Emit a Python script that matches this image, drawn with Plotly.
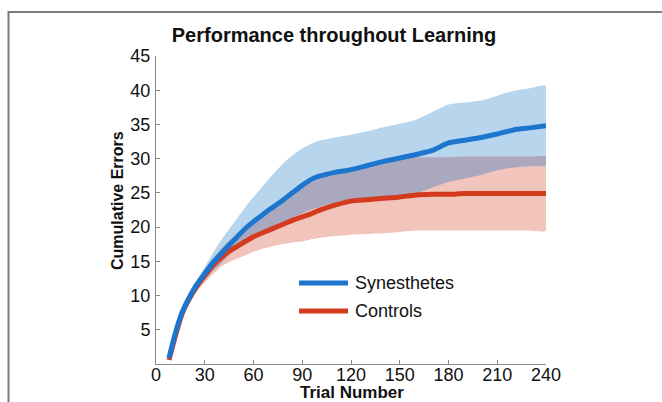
import numpy as np
import plotly.graph_objects as go

trials = [8, 10, 13, 16, 20, 25, 30, 35, 40, 45, 50, 55, 60, 65, 70, 75, 80, 85, 90,
          95, 100, 110, 120, 130, 140, 150, 160, 170, 180, 190, 200, 210, 220, 230, 240]

syn_mean = [0.9, 2.8, 5.4, 7.5, 9.5, 11.6, 13.2, 14.8, 16.1, 17.4, 18.6, 19.8, 20.8,
            21.7, 22.6, 23.4, 24.3, 25.2, 26.1, 26.9, 27.4, 28.0, 28.4, 29.0, 29.6,
            30.1, 30.6, 31.2, 32.3, 32.7, 33.1, 33.6, 34.2, 34.5, 34.8]
syn_upper = [1.0, 3.0, 5.7, 7.9, 10.0, 12.2, 14.2, 16.2, 18.1, 19.7, 21.3, 22.9, 24.4,
             25.8, 27.2, 28.5, 29.7, 30.7, 31.5, 32.1, 32.6, 33.1, 33.5, 34.0, 34.6,
             35.1, 35.7, 36.8, 37.9, 38.2, 38.5, 39.2, 39.9, 40.3, 40.6]
syn_lower = [0.8, 2.6, 5.1, 7.1, 9.0, 10.9, 12.3, 13.6, 14.7, 15.9, 16.8, 17.6, 18.4,
             19.1, 19.7, 20.3, 20.9, 21.5, 22.0, 22.5, 22.9, 23.6, 24.0, 24.2, 24.3,
             24.5, 24.9, 25.8, 26.6, 27.1, 27.6, 28.3, 28.7, 28.9, 29.0]

ctl_mean = [0.6, 2.4, 5.0, 7.3, 9.3, 11.3, 12.9, 14.4, 15.5, 16.5, 17.2, 17.9, 18.6,
            19.1, 19.6, 20.1, 20.6, 21.1, 21.5, 21.9, 22.4, 23.2, 23.8, 24.0, 24.2,
            24.4, 24.7, 24.8, 24.8, 24.9, 24.9, 24.9, 24.9, 24.9, 24.9]
ctl_upper = [0.7, 2.6, 5.3, 7.6, 9.7, 11.8, 13.5, 15.3, 16.8, 18.0, 19.0, 20.0, 21.0,
             21.9, 22.8, 23.7, 24.5, 25.2, 25.9, 26.5, 27.0, 28.0, 28.6, 29.2, 29.7,
             30.0, 30.2, 30.2, 30.2, 30.3, 30.3, 30.3, 30.3, 30.3, 30.3]
ctl_lower = [0.5, 2.2, 4.7, 6.9, 8.8, 10.6, 11.9, 13.1, 14.2, 14.9, 15.4, 15.9, 16.4,
             16.8, 17.1, 17.4, 17.6, 17.8, 17.9, 18.2, 18.4, 18.7, 18.9, 19.0, 19.1,
             19.3, 19.5, 19.5, 19.5, 19.5, 19.5, 19.5, 19.5, 19.5, 19.5]

x_ticks = [0, 30, 60, 90, 120, 150, 180, 210, 240]
y_ticks = [5, 10, 15, 20, 25, 30, 35, 40, 45]
series_names = ["Synesthetes", "Controls"]

BLUE = "rgb(28,118,206)"
RED = "rgb(212,58,30)"
BLUE_BAND = "rgb(183,214,238)"
RED_BAND = "rgb(241,196,188)"
OVERLAP = "rgb(169,168,190)"
FONT = "Liberation Sans, Arial, Helvetica, sans-serif"

t = np.array(trials, dtype=float)
ov_lower = np.maximum(syn_lower, ctl_lower)
ov_upper = np.maximum(np.minimum(syn_upper, ctl_upper), ov_lower)


def band(lower, upper, color):
    return go.Scatter(
        x=np.concatenate([t, t[::-1]]),
        y=np.concatenate([np.asarray(upper, float), np.asarray(lower, float)[::-1]]),
        fill="toself", fillcolor=color, line=dict(width=0, shape="spline", smoothing=0.6),
        mode="lines", hoverinfo="skip", showlegend=False)


fig = go.Figure()
fig.add_trace(band(syn_lower, syn_upper, BLUE_BAND))
fig.add_trace(band(ctl_lower, ctl_upper, RED_BAND))
fig.add_trace(band(ov_lower, ov_upper, OVERLAP))
fig.add_trace(go.Scatter(x=trials, y=ctl_mean, mode="lines", name=series_names[1],
                         line=dict(color=RED, width=5, shape="spline", smoothing=0.6),
                         showlegend=False))
fig.add_trace(go.Scatter(x=trials, y=syn_mean, mode="lines", name=series_names[0],
                         line=dict(color=BLUE, width=5, shape="spline", smoothing=0.6),
                         showlegend=False))

L, R, T, B = 156, 116, 56, 38
W, H = 662 - L - R, 402 - T - B


def px(xp):
    return (xp - L) / W


def py(yp):
    return (402 - B - yp) / H


# manual legend
for name, color, ypix in [(series_names[0], BLUE, 283), (series_names[1], RED, 311)]:
    fig.add_shape(type="line", xref="paper", yref="paper", x0=px(299), x1=px(348),
                  y0=py(ypix), y1=py(ypix), line=dict(color=color, width=5))
    fig.add_annotation(xref="paper", yref="paper", x=px(353), y=py(ypix), text=name,
                       showarrow=False, xanchor="left", yanchor="middle",
                       font=dict(size=18, color="#111", family=FONT))

# outer gray frame
fig.add_shape(type="rect", xref="paper", yref="paper", x0=px(8.5), x1=px(700),
              y0=py(440), y1=py(12), line=dict(color="#7a7a7a", width=2),
              fillcolor="rgba(0,0,0,0)", layer="below")

fig.add_annotation(xref="paper", yref="paper", x=px(117), y=py(201),
                   text="<b>Cumulative Errors</b>", textangle=-90, showarrow=False,
                   xanchor="center", yanchor="middle",
                   font=dict(size=16, color="#111", family=FONT))
fig.add_annotation(xref="paper", yref="paper", x=px(352), y=py(382),
                   text="<b>Trial Number</b>", showarrow=False,
                   xanchor="center", yanchor="top", borderpad=0,
                   font=dict(size=17, color="#111", family=FONT))

axis_common = dict(showgrid=False, zeroline=False, showline=True, linecolor="#8a8a8a",
                   linewidth=1, ticks="inside", ticklen=4, tickcolor="#8a8a8a",
                   tickfont=dict(size=18, color="#111", family=FONT), mirror=False)

fig.update_layout(
    width=662, height=402,
    margin=dict(l=L, r=R, t=T, b=B),
    paper_bgcolor="white", plot_bgcolor="white",
    title=dict(text="<b>Performance throughout Learning</b>", x=334 / 662, xanchor="center",
               xref="container", y=1 - 35 / 402, yanchor="middle",
               yref="container", font=dict(size=20, color="#111", family=FONT)),
    xaxis=dict(range=[0, 240], tickvals=x_ticks, ticktext=[str(v) for v in x_ticks],
               ticklabelstandoff=-6, **axis_common),
    yaxis=dict(range=[0, 45], tickvals=y_ticks, ticktext=[str(v) for v in y_ticks],
               ticklabelstandoff=1, **axis_common),
    showlegend=False,
)

fig.write_html("out.html", config={"displayModeBar": False},
               post_script="document.body.style.margin='0';document.body.style.overflow='hidden';")
